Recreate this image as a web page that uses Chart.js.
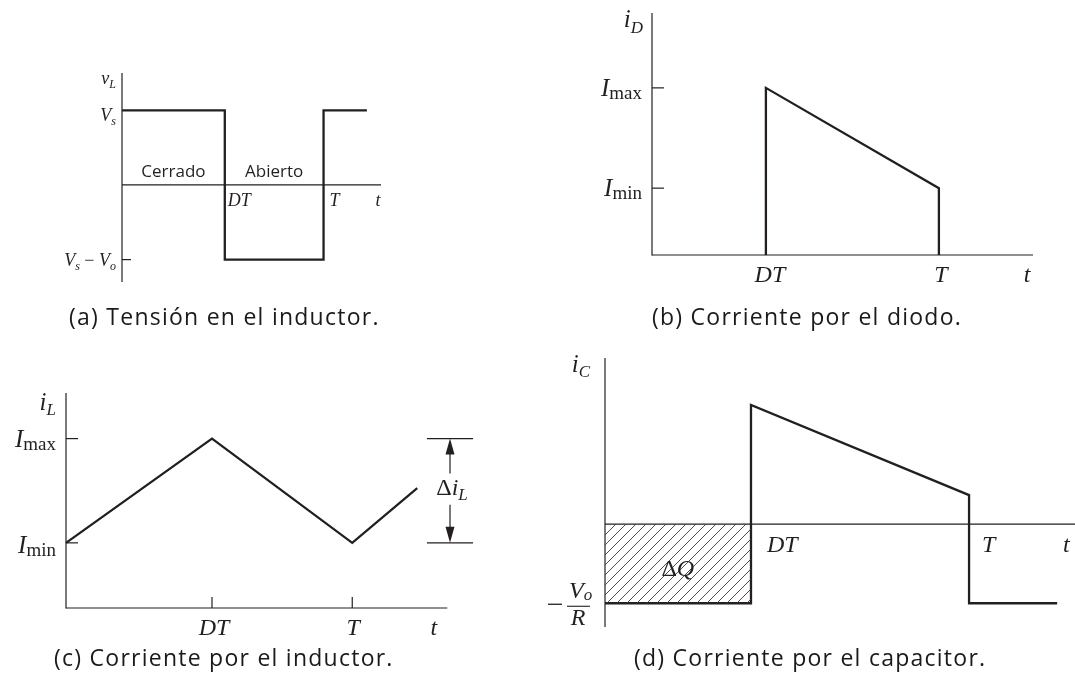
<!DOCTYPE html>
<html>
<head>
<meta charset="utf-8">
<script src="https://cdn.jsdelivr.net/npm/chart.js@4.4.0/dist/chart.umd.min.js"></script>
<style>
  html, body { margin: 0; padding: 0; background: #fff; }
  #fig { position: relative; width: 1075px; height: 684px; overflow: hidden; background: #fff; }
  #fig canvas { position: absolute; left: 0; top: 0; }
  .cap { position: absolute; font-family: "Open Sans", sans-serif; font-size: 23px; line-height: 23px;
         letter-spacing: 1.25px; color: #1a1a1a; white-space: nowrap; }
</style>
</head>
<body>
<div id="fig">
  <canvas id="chartA" width="1075" height="684"></canvas>
  <canvas id="chartB" width="1075" height="684"></canvas>
  <canvas id="chartC" width="1075" height="684"></canvas>
  <canvas id="chartD" width="1075" height="684"></canvas>
  <div class="cap" style="left:69px;top:305px">(a) Tensión en el inductor.</div>
  <div class="cap" style="left:652px;top:305px">(b) Corriente por el diodo.</div>
  <div class="cap" style="left:54px;top:646px">(c) Corriente por el inductor.</div>
  <div class="cap" style="left:634px;top:646px">(d) Corriente por el capacitor.</div>
</div>
<script>
// ---- Waveform data (time in units of the period T) ----
// (a) inductor voltage: +Vs while the switch is closed, Vs - Vo while open
const tA = [0, 0.51, 0.51, 1, 1, 1.215];
const vL = [1, 1, -1, -1, 1, 1];
const levelsA = [1, -1];            // Vs, Vs - Vo
const marksA = [0.51, 1];           // DT, T

// (b) diode current: zero while closed, ramps Imax -> Imin while open
const tB = [0.397, 0.397, 1, 1];
const iD = [0, 2.5, 1, 0];
const levelsB = [2.5, 1];           // Imax, Imin
const marksB = [0.397, 1];          // DT, T

// (c) inductor current: triangular ripple between Imin and Imax
const tC = [0, 0.51, 1, 1.227];
const iL = [1, 2.6, 1, 1.84];
const levelsC = [2.6, 1];           // Imax, Imin
const marksC = [0.51, 1];           // DT, T

// (d) capacitor current: -Vo/R while closed, iD - Vo/R while open
const tD = [0, 0.401, 0.401, 1, 1, 1.242];
const iC = [-1, -1, 1.506, 0.367, -1, -1];
const tQ = [0, 0.401];              // charge interval (shaded)
const iQ = [-1, -1];
const marksD = [0.401, 1];          // DT, T

const W = 1075, H = 684;
const INK = '#231f20';
const SERIF = '"Liberation Serif", "DejaVu Serif", serif';

function pts(xs, ys) { return xs.map((x, i) => ({ x, y: ys[i] })); }

function seg(ctx, x1, y1, x2, y2, w) {
  ctx.save();
  ctx.strokeStyle = INK; ctx.lineWidth = w || 1.2; ctx.lineCap = 'butt';
  ctx.beginPath(); ctx.moveTo(x1, y1); ctx.lineTo(x2, y2); ctx.stroke();
  ctx.restore();
}

// Math-style label: pieces are [text, size, 'i'|'r', baselineShift]
function mathText(ctx, x, y, pieces, align) {
  ctx.save();
  ctx.fillStyle = INK; ctx.textBaseline = 'alphabetic'; ctx.textAlign = 'left';
  let total = 0;
  const widths = pieces.map(p => {
    ctx.font = (p[2] === 'i' ? 'italic ' : '') + p[1] + 'px ' + SERIF;
    const w = ctx.measureText(p[0]).width; total += w; return w;
  });
  let cx = align === 'right' ? x - total : align === 'center' ? x - total / 2 : x;
  pieces.forEach((p, k) => {
    ctx.font = (p[2] === 'i' ? 'italic ' : '') + p[1] + 'px ' + SERIF;
    ctx.fillText(p[0], cx, y + (p[3] || 0));
    cx += widths[k];
  });
  ctx.restore();
}

function sansText(ctx, s, x, y, size) {
  ctx.save();
  ctx.fillStyle = INK; ctx.font = size + 'px "Open Sans", sans-serif';
  ctx.textAlign = 'center'; ctx.textBaseline = 'alphabetic';
  ctx.fillText(s, x, y);
  ctx.restore();
}

function hatchPattern() {
  const c = document.createElement('canvas');
  c.width = 10; c.height = 10;
  const g = c.getContext('2d');
  g.strokeStyle = '#3a3a3a'; g.lineWidth = 0.9;
  g.beginPath();
  g.moveTo(-1, 11); g.lineTo(11, -1);
  g.moveTo(-6, 6); g.lineTo(6, -6);
  g.moveTo(4, 16); g.lineTo(16, 4);
  g.stroke();
  return g.createPattern(c, 'repeat');
}

function makeChart(id, area, xr, yr, datasets, back, front) {
  return new Chart(document.getElementById(id), {
    type: 'line',
    data: { datasets },
    options: {
      responsive: false, animation: false, events: [],
      layout: { padding: { left: area[0], top: area[1], right: W - area[2], bottom: H - area[3] } },
      scales: {
        x: { type: 'linear', min: xr[0], max: xr[1], display: false },
        y: { type: 'linear', min: yr[0], max: yr[1], display: false }
      },
      plugins: { legend: { display: false }, tooltip: { enabled: false }, title: { display: false } },
      elements: { point: { radius: 0 }, line: { tension: 0 } }
    },
    plugins: [{ id: 'axesAndLabels', beforeDatasetsDraw: back, afterDatasetsDraw: front }]
  });
}

const wave = (data) => ({ data, borderColor: INK, borderWidth: 2.3, fill: false,
  borderJoinStyle: 'miter', pointRadius: 0, clip: 4 });

// ---------- (a) inductor voltage ----------
makeChart('chartA', [122, 73, 381, 282], [0, 1.285], [-1.3, 1.5],
  [wave(pts(tA, vL))],
  (ch) => {
    const { ctx } = ch, x = ch.scales.x, y = ch.scales.y;
    const x0 = x.getPixelForValue(0), y0 = y.getPixelForValue(0);
    seg(ctx, x0, y.getPixelForValue(1.5), x0, y.getPixelForValue(-1.3));
    seg(ctx, x0, y0, x.getPixelForValue(1.285), y0);
    seg(ctx, x0, y.getPixelForValue(levelsA[1]), x0 + 9, y.getPixelForValue(levelsA[1]));
  },
  (ch) => {
    const { ctx } = ch, x = ch.scales.x, y = ch.scales.y;
    const x0 = x.getPixelForValue(0), y0 = y.getPixelForValue(0);
    mathText(ctx, x0 - 6, y.getPixelForValue(1.5) + 11, [['v', 18, 'i'], ['L', 12, 'i', 4]], 'right');
    mathText(ctx, x0 - 6, y.getPixelForValue(levelsA[0]) + 11, [['V', 18, 'i'], ['s', 12, 'i', 4]], 'right');
    mathText(ctx, x0 - 6, y.getPixelForValue(levelsA[1]) + 6,
      [['V', 18, 'i'], ['s', 12, 'i', 4], [' \u2212 ', 18, 'r'], ['V', 18, 'i'], ['o', 12, 'i', 4]], 'right');
    const xd = x.getPixelForValue(marksA[0]), xt = x.getPixelForValue(marksA[1]);
    mathText(ctx, xd + 3, y0 + 21, [['DT', 18, 'i']], 'left');
    mathText(ctx, xt + 6, y0 + 21, [['T', 18, 'i']], 'left');
    mathText(ctx, x.getPixelForValue(1.27), y0 + 21, [['t', 18, 'i']], 'center');
    sansText(ctx, 'Cerrado', (x0 + xd) / 2, y0 - 8, 17);
    sansText(ctx, 'Abierto', (xd + xt) / 2, y0 - 8, 17);
  });

// ---------- (b) diode current ----------
makeChart('chartB', [652, 13, 1033, 255], [0, 1.328], [0, 3.62],
  [wave(pts(tB, iD))],
  (ch) => {
    const { ctx } = ch, x = ch.scales.x, y = ch.scales.y;
    const x0 = x.getPixelForValue(0), y0 = y.getPixelForValue(0);
    seg(ctx, x0, y.getPixelForValue(3.62), x0, y0 + 0.6);
    seg(ctx, x0, y0, x.getPixelForValue(1.328), y0);
    levelsB.forEach(v => seg(ctx, x0, y.getPixelForValue(v), x0 + 12, y.getPixelForValue(v)));
  },
  (ch) => {
    const { ctx } = ch, x = ch.scales.x, y = ch.scales.y;
    const x0 = x.getPixelForValue(0), y0 = y.getPixelForValue(0);
    mathText(ctx, x0 - 9, 27, [['i', 25, 'i'], ['D', 17, 'i', 6]], 'right');
    mathText(ctx, x0 - 10, y.getPixelForValue(levelsB[0]) + 8, [['I', 25, 'i'], ['max', 19, 'r', 3]], 'right');
    mathText(ctx, x0 - 10, y.getPixelForValue(levelsB[1]) + 8, [['I', 25, 'i'], ['min', 19, 'r', 3]], 'right');
    mathText(ctx, x.getPixelForValue(marksB[0]) + 4, y0 + 27, [['DT', 24, 'i']], 'center');
    mathText(ctx, x.getPixelForValue(marksB[1]) + 2, y0 + 27, [['T', 24, 'i']], 'center');
    mathText(ctx, x.getPixelForValue(1.307), y0 + 27, [['t', 24, 'i']], 'center');
  });

// ---------- (c) inductor current ----------
makeChart('chartC', [66, 393, 524, 608], [0, 1.6], [0, 3.3],
  [wave(pts(tC, iL))],
  (ch) => {
    const { ctx } = ch, x = ch.scales.x, y = ch.scales.y;
    const x0 = x.getPixelForValue(0), y0 = y.getPixelForValue(0);
    seg(ctx, x0, y.getPixelForValue(3.3), x0, y0 + 0.6);
    seg(ctx, x0, y0, x.getPixelForValue(1.332), y0);
    levelsC.forEach(v => seg(ctx, x0, y.getPixelForValue(v), x0 + 12, y.getPixelForValue(v)));
    marksC.forEach(m => seg(ctx, x.getPixelForValue(m), y0, x.getPixelForValue(m), y0 - 11));
  },
  (ch) => {
    const { ctx } = ch, x = ch.scales.x, y = ch.scales.y;
    const x0 = x.getPixelForValue(0), y0 = y.getPixelForValue(0);
    const yMax = y.getPixelForValue(levelsC[0]), yMin = y.getPixelForValue(levelsC[1]);
    mathText(ctx, x0 - 10, 410, [['i', 25, 'i'], ['L', 17, 'i', 5]], 'right');
    mathText(ctx, x0 - 10, yMax + 8, [['I', 25, 'i'], ['max', 19, 'r', 3]], 'right');
    mathText(ctx, x0 - 10, yMin + 10, [['I', 25, 'i'], ['min', 19, 'r', 3]], 'right');
    mathText(ctx, x.getPixelForValue(marksC[0]) + 2, y0 + 27, [['DT', 24, 'i']], 'center');
    mathText(ctx, x.getPixelForValue(marksC[1]) + 1, y0 + 27, [['T', 24, 'i']], 'center');
    mathText(ctx, x.getPixelForValue(1.285), y0 + 27, [['t', 24, 'i']], 'center');
    // ripple dimension
    const xa = x.getPixelForValue(1.261), xb = x.getPixelForValue(1.422), xm = x.getPixelForValue(1.3415);
    seg(ctx, xa, yMax, xb, yMax);
    seg(ctx, xa, yMin, xb, yMin);
    seg(ctx, xm, yMax + 12, xm, yMax + 35);
    seg(ctx, xm, yMin - 12, xm, yMin - 38);
    ctx.save(); ctx.fillStyle = INK;
    ctx.beginPath(); ctx.moveTo(xm, yMax); ctx.lineTo(xm - 4.5, yMax + 16); ctx.lineTo(xm + 4.5, yMax + 16); ctx.closePath(); ctx.fill();
    ctx.beginPath(); ctx.moveTo(xm, yMin); ctx.lineTo(xm - 4.5, yMin - 16); ctx.lineTo(xm + 4.5, yMin - 16); ctx.closePath(); ctx.fill();
    ctx.restore();
    mathText(ctx, xm + 2, (yMax + yMin) / 2 + 4, [['\u0394', 24, 'r'], ['i', 24, 'i'], ['L', 17, 'i', 5]], 'center');
  });

// ---------- (d) capacitor current ----------
makeChart('chartD', [605, 358, 1075, 627], [0, 1.291], [-1.3, 2.1],
  [
    { data: pts(tQ, iQ), borderWidth: 0, borderColor: 'rgba(0,0,0,0)', backgroundColor: hatchPattern(),
      fill: 'origin', pointRadius: 0 },
    wave(pts(tD, iC))
  ],
  (ch) => {
    const { ctx } = ch, x = ch.scales.x, y = ch.scales.y;
    const x0 = x.getPixelForValue(0), y0 = y.getPixelForValue(0);
    seg(ctx, x0, y.getPixelForValue(2.1), x0, y.getPixelForValue(-1.3));
    seg(ctx, x0, y0, x.getPixelForValue(1.291), y0);
  },
  (ch) => {
    const { ctx } = ch, x = ch.scales.x, y = ch.scales.y;
    const x0 = x.getPixelForValue(0), y0 = y.getPixelForValue(0);
    const yq = y.getPixelForValue(iQ[0]);
    mathText(ctx, x0 - 15, 372, [['i', 25, 'i'], ['C', 17, 'i', 5]], 'right');
    mathText(ctx, x.getPixelForValue(marksD[0]) + 16, y0 + 28, [['DT', 24, 'i']], 'left');
    mathText(ctx, x.getPixelForValue(marksD[1]) + 13, y0 + 28, [['T', 24, 'i']], 'left');
    mathText(ctx, 1063, y0 + 28, [['t', 24, 'i']], 'left');
    mathText(ctx, x.getPixelForValue(0.2), yq - 27, [['\u0394', 24, 'r'], ['Q', 24, 'i']], 'center');
    // -Vo/R level label
    seg(ctx, x0 - 57, yq + 1, x0 - 43, yq + 1, 1.3);
    mathText(ctx, x0 - 36, yq - 5, [['V', 24, 'i'], ['o', 17, 'i', 2]], 'left');
    seg(ctx, x0 - 38, yq + 3, x0 - 15, yq + 3, 1.1);
    mathText(ctx, x0 - 27, yq + 22, [['R', 24, 'i']], 'center');
  });
</script>
</body>
</html>
